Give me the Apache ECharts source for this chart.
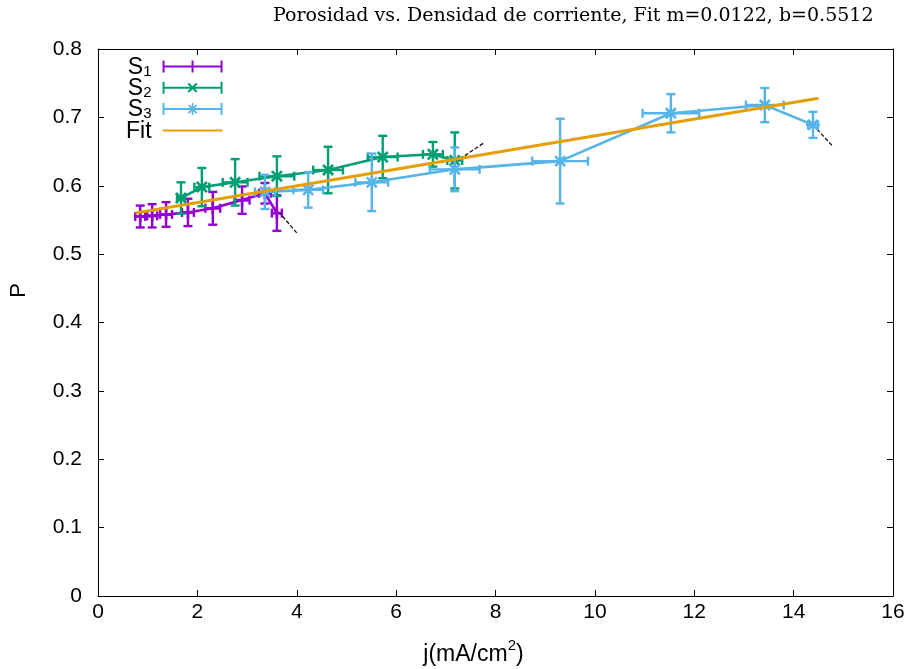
<!DOCTYPE html>
<html>
<head>
<meta charset="utf-8">
<script src="https://cdn.jsdelivr.net/npm/echarts@6/dist/echarts.min.js"></script>
<style>html,body{margin:0;padding:0;background:#fff;}#c{width:914px;height:669px;}</style>
</head>
<body>
<div id="c"></div>
<script>
// ---- data ----
const S1_j  = [0.85, 1.09, 1.37, 1.81, 2.31, 2.90, 3.36, 3.60];
const S1_P  = [0.555, 0.556, 0.558, 0.561, 0.567, 0.579, 0.589, 0.560];
const S1_dj = [0.10, 0.10, 0.12, 0.12, 0.15, 0.15, 0.12, 0.10];
const S1_dP = [0.016, 0.017, 0.018, 0.020, 0.024, 0.020, 0.015, 0.026];

const S2_j  = [1.67, 2.09, 2.76, 3.60, 4.63, 5.73, 6.74, 7.18];
const S2_P  = [0.582, 0.598, 0.605, 0.614, 0.623, 0.642, 0.646, 0.637];
const S2_dj = [0.08, 0.15, 0.25, 0.35, 0.30, 0.30, 0.20, 0.15];
const S2_dP = [0.023, 0.028, 0.034, 0.029, 0.034, 0.031, 0.018, 0.041];

const S3_j  = [3.36, 4.23, 5.51, 7.18, 9.30, 11.53, 13.42, 14.39];
const S3_P  = [0.591, 0.594, 0.605, 0.624, 0.636, 0.706, 0.718, 0.689];
const S3_dj = [0.20, 0.30, 0.33, 0.50, 0.56, 0.57, 0.38, 0.10];
const S3_dP = [0.025, 0.026, 0.042, 0.032, 0.062, 0.028, 0.025, 0.019];

const fitJ = [0.75, 14.5];
const fitP = [0.560, 0.728];

// arrows: [fromJ, fromP, toJ, toP]
const arrows = [
  [4.00, 0.531, 3.66, 0.560],
  [7.75, 0.662, 7.24, 0.637],
  [14.77, 0.659, 14.43, 0.686]
];

const xTicks = {min: 0, max: 16, interval: 2};
const yTicks = {min: 0, max: 0.8, interval: 0.1};

const titleText = 'Porosidad vs. Densidad de corriente, Fit m=0.0122, b=0.5512';
const seriesNames = ['S1', 'S2', 'S3', 'Fit'];
const colors = {S1: '#9400d3', S2: '#009e73', S3: '#56b4e9', Fit: '#e69f00'};

// ---- symbol paths ----
const plusPath = 'path://M4.7 0H7.3V12H4.7Z M0 4.7H12V7.3H0Z';
const xPath = 'path://M0 1.9L1.9 0L12 10.1L10.1 12Z M10.1 0L12 1.9L1.9 12L0 10.1Z';
const starPath = 'path://M5.1 0H6.9V12H5.1Z M0 5.1H12V6.9H0Z M0.9 2.5L2.5 0.9L11.1 9.5L9.5 11.1Z M9.5 0.9L11.1 2.5L2.5 11.1L0.9 9.5Z';

const barBase = 'M0 5H60V7H0Z M0 0H2V12H0Z M58 0H60V12H58Z';
const legIcons = {
  S1: 'path://' + barBase + ' M29 0H31V12H29Z',
  S2: 'path://' + barBase + ' M25 2.5L26.5 1L35 9.5L33.5 11Z M33.5 1L35 2.5L26.5 11L25 9.5Z',
  S3: 'path://' + barBase + ' M29.2 0H30.8V12H29.2Z M25.4 2.6L26.6 1.4L34.6 9.4L33.4 10.6Z M33.4 1.4L34.6 2.6L26.6 10.6L25.4 9.4Z',
  Fit: 'path://M0 5H60V7H0Z M0 0L0.01 0L0 0.01Z M60 12L59.99 12L60 11.99Z'
};

function zip(a, b) { return a.map((v, i) => [v, b[i]]); }
function zip4(a, b, c, d) { return a.map((v, i) => [v, b[i], c[i], d[i]]); }

function errRender(params, api) {
  const x = api.value(0), y = api.value(1), dx = api.value(2), dy = api.value(3);
  const l = api.coord([x - dx, y]), r = api.coord([x + dx, y]);
  const t = api.coord([x, y + dy]), b = api.coord([x, y - dy]);
  const col = api.visual('color');
  const cap = 4.5;
  const st = {stroke: col, lineWidth: 2.4};
  const line = (x1, y1, x2, y2) => ({type: 'line', shape: {x1, y1, x2, y2}, style: st});
  return {
    type: 'group',
    children: [
      line(l[0], l[1], r[0], r[1]),
      line(l[0], l[1] - cap, l[0], l[1] + cap),
      line(r[0], r[1] - cap, r[0], r[1] + cap),
      line(t[0], t[1], b[0], b[1]),
      line(t[0] - cap, t[1], t[0] + cap, t[1]),
      line(b[0] - cap, b[1], b[0] + cap, b[1])
    ]
  };
}

function errSeries(name, j, P, dj, dP, z) {
  return {
    name: name, type: 'custom', renderItem: errRender,
    data: zip4(j, P, dj, dP),
    itemStyle: {color: colors[name]},
    encode: {x: 0, y: 1},
    silent: true, z: z
  };
}
function lineSeries(name, j, P, sym, size, z) {
  return {
    name: name, type: 'line', data: zip(j, P),
    symbol: sym, symbolSize: size, showSymbol: true,
    lineStyle: {color: colors[name], width: 2.6},
    itemStyle: {color: colors[name]},
    silent: true, z: z
  };
}

const font = 'Liberation Sans';
const axisCommon = {
  axisLine: {onZero: false, lineStyle: {color: '#000', width: 1}},
  axisTick: {inside: true, length: 6, lineStyle: {color: '#000'}},
  splitLine: {show: false}
};

const chart = echarts.init(document.getElementById('c'), null, {renderer: 'canvas'});
chart.setOption({
  animation: false,
  backgroundColor: '#fff',
  title: {
    text: titleText, left: 268, top: 2,
    textStyle: {fontFamily: 'DejaVu Serif', fontSize: 19, fontWeight: 'normal', color: '#000'}
  },
  grid: {left: 98, right: 21, top: 49, bottom: 73, show: false, containLabel: false, outerBoundsMode: 'none'},
  legend: {
    orient: 'vertical', align: 'right', left: 121, top: 51,
    itemWidth: 60, itemHeight: 12, itemGap: -1.7,
    data: seriesNames.map(n => ({name: n, icon: legIcons[n]})),
    formatter: n => n === 'Fit' ? '{n|Fit}' : '{n|S}{sub|' + n.slice(1) + '}',
    textStyle: {
      color: '#000', fontFamily: font, padding: [0, 6, 0, 0],
      rich: {
        n: {fontSize: 23, lineHeight: 21, fontFamily: font, color: '#000', verticalAlign: 'top'},
        sub: {fontSize: 15, lineHeight: 14, fontFamily: font, color: '#000', verticalAlign: 'top', padding: [8, 0, 0, 0]}
      }
    },
    selectedMode: false
  },
  xAxis: [
    Object.assign({
      type: 'value', position: 'bottom', min: xTicks.min, max: xTicks.max, interval: xTicks.interval,
      axisLabel: {color: '#000', fontSize: 21, fontFamily: font, margin: 6},
      name: '{a|j(mA/cm}{sup|2}{a|)}', nameLocation: 'middle', nameGap: 42,
      nameTextStyle: {
        padding: [0, 44, 0, 0],
        rich: {
          a: {fontSize: 23, lineHeight: 24, fontFamily: font, color: '#000', verticalAlign: 'top', padding: [5, 0, 0, 0]},
          sup: {fontSize: 15, lineHeight: 15, fontFamily: font, color: '#000', verticalAlign: 'top'}
        }
      }
    }, axisCommon),
    Object.assign({
      type: 'value', position: 'top', min: xTicks.min, max: xTicks.max, interval: xTicks.interval,
      axisLabel: {show: false}
    }, axisCommon)
  ],
  yAxis: [
    Object.assign({
      type: 'value', position: 'left', min: yTicks.min, max: yTicks.max, interval: yTicks.interval,
      axisLabel: {color: '#000', fontSize: 21, fontFamily: font, margin: 16,
        formatter: v => (Math.round(v * 10) / 10).toString()},
      name: 'P', nameLocation: 'middle', nameGap: 68,
      nameTextStyle: {color: '#000', fontSize: 22, fontFamily: font, padding: [0, 0, 0, 64]}
    }, axisCommon),
    Object.assign({
      type: 'value', position: 'right', min: yTicks.min, max: yTicks.max, interval: yTicks.interval,
      axisLabel: {show: false}
    }, axisCommon)
  ],
  series: [
    errSeries('S1', S1_j, S1_P, S1_dj, S1_dP, 2),
    lineSeries('S1', S1_j, S1_P, plusPath, 12, 3),
    errSeries('S2', S2_j, S2_P, S2_dj, S2_dP, 4),
    lineSeries('S2', S2_j, S2_P, xPath, 12, 5),
    errSeries('S3', S3_j, S3_P, S3_dj, S3_dP, 6),
    lineSeries('S3', S3_j, S3_P, starPath, 14, 7),
    {
      name: 'Fit', type: 'line', data: zip(fitJ, fitP), symbol: 'none',
      lineStyle: {color: colors.Fit, width: 3}, itemStyle: {color: colors.Fit},
      silent: true, z: 8,
      markLine: {
        silent: true, symbol: ['none', 'arrow'], symbolSize: [0, 10],
        label: {show: false},
        lineStyle: {color: '#111', width: 1.3, type: [4, 2]},
        emphasis: {disabled: true},
        data: arrows.map(a => [{coord: [a[0], a[1]]}, {coord: [a[2], a[3]]}])
      }
    }
  ]
});
</script>
</body>
</html>
